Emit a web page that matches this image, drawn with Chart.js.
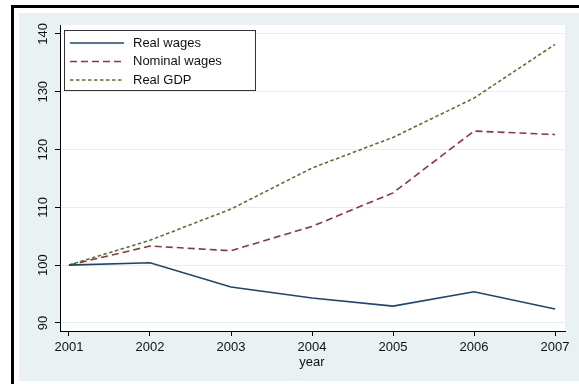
<!DOCTYPE html>
<html>
<head>
<meta charset="utf-8">
<script src="https://cdn.jsdelivr.net/npm/chart.js@4"></script>
<style>
  html, body { margin: 0; padding: 0; background: #fff; overflow: hidden; }
  body { width: 579px; height: 384px; position: relative; }
  .frame { position: absolute; left: 11px; top: 5px; width: 568px; height: 379px; box-sizing: border-box; border-top: 3px solid #000; border-left: 3px solid #000; }
  .panel { position: absolute; left: 19px; top: 13px; width: 560px; height: 368px; background: #eaf1f3; }
  canvas { display: block; }
</style>
</head>
<body>
<div class="frame"></div>
<div class="panel"><canvas id="chart" width="556" height="368"></canvas></div>
<script>
const years = [2001, 2002, 2003, 2004, 2005, 2006, 2007];
const realWages = [100, 100.4, 96.2, 94.3, 92.9, 95.4, 92.4];
const nominalWages = [100, 103.3, 102.5, 106.7, 112.5, 123.2, 122.6];
const realGDP = [100, 104.3, 109.7, 116.8, 122.1, 128.9, 138.2];
const yTicks = [90, 100, 110, 120, 130, 140];
const seriesNames = ['Real wages', 'Nominal wages', 'Real GDP'];

const FONT = '13px "Liberation Sans", Arial, sans-serif';
const TEXT = '#111';

const toPoints = (vals) => vals.map((v, i) => ({ x: years[i], y: v }));

// white plot region, rotated y labels, axis title and legend box
const decor = {
	id: 'decor',
	beforeDraw(chart) {
		const { ctx, chartArea: a } = chart;
		ctx.save();
		ctx.fillStyle = '#fff';
		ctx.fillRect(a.left, a.top, a.right - a.left, a.bottom - a.top);
		ctx.restore();
	},
	afterDraw(chart) {
		const { ctx, chartArea: a, scales } = chart;
		ctx.save();
		ctx.font = FONT;
		ctx.fillStyle = TEXT;
		ctx.textAlign = 'center';
		ctx.textBaseline = 'middle';
		yTicks.forEach((t) => {
			const y = scales.y.getPixelForValue(t);
			ctx.save();
			ctx.translate(a.left - 17, y);
			ctx.rotate(-Math.PI / 2);
			ctx.fillText(String(t), 0, 0);
			ctx.restore();
		});
		ctx.fillText('year', scales.x.getPixelForValue(2004), a.bottom + 31);

		// legend
		const bx = a.left + 4, by = a.top + 5, bw = 191, bh = 60;
		ctx.fillStyle = '#fff';
		ctx.fillRect(bx, by, bw, bh);
		ctx.strokeStyle = '#333';
		ctx.lineWidth = 1;
		ctx.strokeRect(bx + 0.5, by + 0.5, bw, bh);
		chart.data.datasets.forEach((ds, i) => {
			const y = by + 13 + i * 18.5;
			ctx.beginPath();
			ctx.strokeStyle = ds.borderColor;
			ctx.lineWidth = ds.borderWidth;
			ctx.setLineDash(ds.borderDash || []);
			ctx.moveTo(bx + 6, y);
			ctx.lineTo(bx + 60, y);
			ctx.stroke();
			ctx.setLineDash([]);
			ctx.fillStyle = TEXT;
			ctx.textAlign = 'left';
			ctx.fillText(ds.label, bx + 69, y);
		});
		ctx.restore();
	}
};

new Chart(document.getElementById('chart'), {
	type: 'line',
	data: {
		datasets: [
			{
				label: seriesNames[0],
				data: toPoints(realWages),
				borderColor: '#1a476f',
				borderWidth: 1.6,
			},
			{
				label: seriesNames[1],
				data: toPoints(nominalWages),
				borderColor: '#90353b',
				borderWidth: 1.6,
				borderDash: [7, 4],
			},
			{
				label: seriesNames[2],
				data: toPoints(realGDP),
				borderColor: '#55752f',
				borderWidth: 1.6,
				borderDash: [3.5, 2.5],
			},
		],
	},
	options: {
		responsive: false,
		animation: false,
		events: [],
		elements: { point: { radius: 0 }, line: { tension: 0 } },
		layout: { padding: { left: 0, right: 10, top: 12, bottom: 0 } },
		plugins: {
			legend: { display: false },
			tooltip: { enabled: false },
		},
		scales: {
			x: {
				type: 'linear',
				min: 2000.889,
				max: 2007.123,
				afterBuildTicks: (s) => { s.ticks = years.map((v) => ({ value: v })); },
				afterFit: (s) => { s.height = 50; },
				grid: { drawOnChartArea: false, tickLength: 5, tickColor: '#000' },
				border: { color: '#000', width: 1 },
				ticks: {
					font: { family: '"Liberation Sans", Arial, sans-serif', size: 13 },
					color: TEXT,
					padding: 4,
					maxRotation: 0,
					callback: (v) => String(v),
				},
			},
			y: {
				type: 'linear',
				min: 88.6,
				max: 141.55,
				afterBuildTicks: (s) => { s.ticks = yTicks.map((v) => ({ value: v })); },
				afterFit: (s) => { s.width = 41; },
				grid: { color: '#e6eef1', tickLength: 5, tickColor: '#000', lineWidth: 1 },
				border: { color: '#000', width: 1 },
				ticks: { display: false },
			},
		},
	},
	plugins: [decor],
});
</script>
</body>
</html>
